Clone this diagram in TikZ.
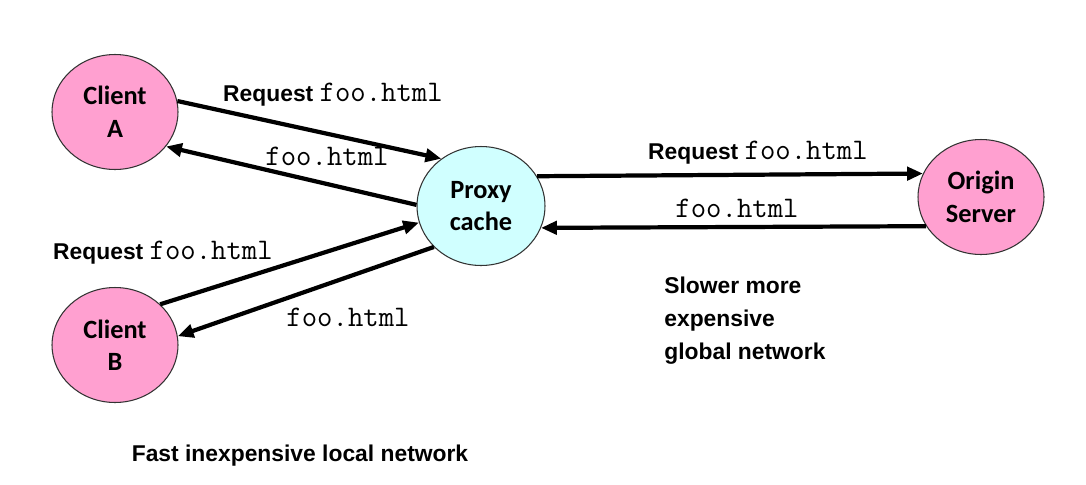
\documentclass[tikz,border=0pt]{standalone}
\usepackage{fontspec}
\setmainfont{Liberation Sans}
\newfontfamily\nodefont{Carlito}
\usetikzlibrary{arrows.meta, shapes.geometric, positioning}
\definecolor{hostpink}{RGB}{255,160,208}
\definecolor{cachecyan}{RGB}{208,255,255}
\newcommand{\fname}{{\fontsize{17}{18}\selectfont\ttfamily\mdseries foo.html}}

\begin{document}
\begin{tikzpicture}[x=0.02cm, y=-0.02cm, >={Triangle[length=9pt,width=7.5pt]},
  host/.style={ellipse, draw=black!80, line width=0.6pt, fill=hostpink,
    minimum width=2.52cm, minimum height=2.3cm, align=center,
    font=\nodefont\bfseries\fontsize{15}{18.5}\selectfont},
  msg/.style={->, line width=2.4pt},
  lbl/.style={inner sep=0pt, font=\bfseries\fontsize{13}{18.7}\selectfont}]

\useasboundingbox (0,0) rectangle (1086,484);

\node[host] (A) at (115,112) {Client\\A};
\node[host] (B) at (115,345) {Client\\B};
\node[host, fill=cachecyan, minimum width=2.56cm, minimum height=2.38cm] (P) at (481,206) {Proxy\\cache};
\node[host] (O) at (981,197) {Origin\\Server};

% client side
\draw[msg] (A.10) -- (P.130);
\draw[msg] (P.179) -- (A.-34);
\draw[msg] (B.42) -- (P.195);
\draw[msg] (P.221) -- (B.8);

% server side
\draw[msg] (P.28) -- (O.158);
\draw[msg] (O.208) -- (P.-20);

% labels
\node[lbl] (reqA) at (333,95) {Request \fname};
\node[lbl] (repA) at (327,156) {\fname};
\node[lbl] (reqB) at (163,253) {Request \fname};
\node[lbl] (repB) at (348,317) {\fname};
\node[lbl] (reqO) at (758,153) {Request \fname};
\node[lbl] (repO) at (737,208) {\fname};

\node[lbl, anchor=north west, align=left] (wan) at (664,277) {Slower more\\expensive\\global network};
\node[lbl] (lan) at (300,456) {Fast inexpensive local network};

\end{tikzpicture}
\end{document}
